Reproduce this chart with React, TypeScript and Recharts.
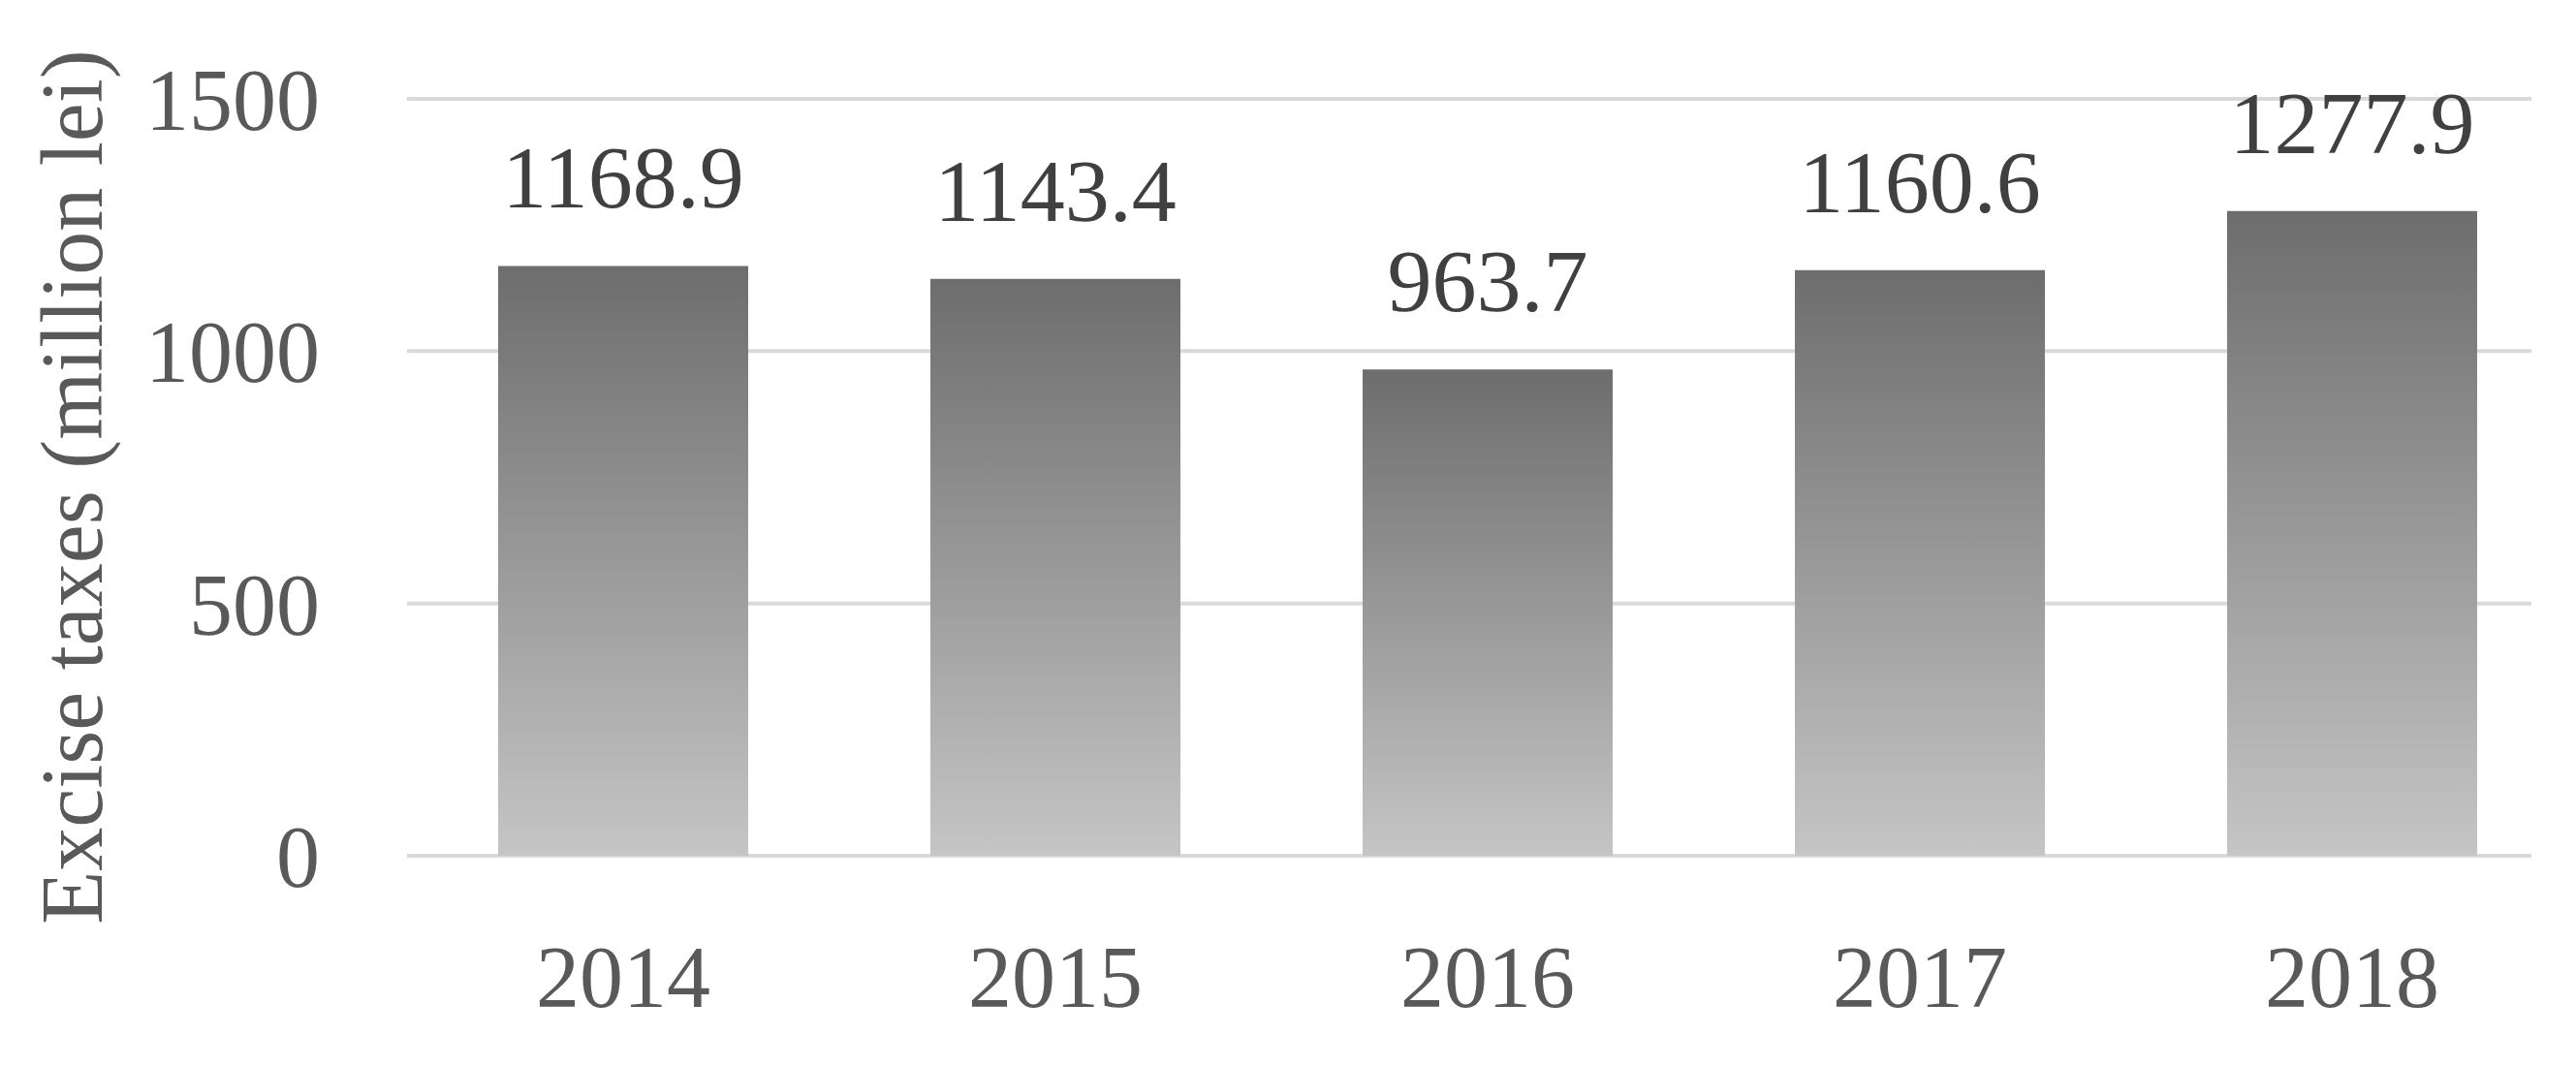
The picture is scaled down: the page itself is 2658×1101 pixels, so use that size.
import { Bar, BarChart, CartesianGrid, LabelList, XAxis, YAxis } from 'recharts';

const YEARS = ['2014', '2015', '2016', '2017', '2018'];
const EXCISE = [1168.9, 1143.4, 963.7, 1160.6, 1277.9];
const Y_TICKS = [0, 500, 1000, 1500];

const data = YEARS.map((year, i) => ({ year, excise: EXCISE[i] }));

const FONT = '"Liberation Serif", "Times New Roman", serif';
const GREY = '#595959';

function AxisTitle({ viewBox }: any) {
  const cx = viewBox.x + 74;
  const cy = viewBox.y + viewBox.height / 2 + 10;
  return (
    <text
      x={cx}
      y={cy}
      transform={`rotate(-90 ${cx} ${cy})`}
      textAnchor="middle"
      dominantBaseline="central"
      fontFamily={FONT}
      fontSize={90}
      fill={GREY}
    >
      Excise taxes (million lei)
    </text>
  );
}

export default function App() {
  return (
    <div style={{ width: 2658, height: 1101, background: '#fff' }}>
      <style>{'body{margin:0}'}</style>
      <BarChart
        width={2658}
        height={1101}
        data={data}
        margin={{ top: 102, right: 8, left: 0, bottom: 0 }}
      >
        <defs>
          <linearGradient id="barGrad" x1="0" y1="0" x2="0" y2="1">
            <stop offset="0%" stopColor="#6d6d6d" />
            <stop offset="100%" stopColor="#c5c5c5" />
          </linearGradient>
        </defs>
        <CartesianGrid
          vertical={false}
          horizontal={(p: any) => (
            <line
              key={`h-${p.index}-${p.y1}`}
              x1={p.x1}
              y1={p.y1}
              x2={p.x2 - 38}
              y2={p.y2}
              stroke="#d9d9d9"
              strokeWidth={4}
            />
          )}
        />
        <XAxis
          dataKey="year"
          height={218}
          axisLine={false}
          tickLine={false}
          tickMargin={86}
          tick={{ fontSize: 90, fill: GREY, fontFamily: FONT }}
        />
        <YAxis
          width={420}
          domain={[0, 1500]}
          ticks={Y_TICKS}
          axisLine={false}
          tickLine={false}
          tickMargin={84}
          tick={{ fontSize: 90, fill: GREY, fontFamily: FONT }}
          label={<AxisTitle />}
        />
        <Bar
          dataKey="excise"
          fill="url(#barGrad)"
          barSize={258}
          isAnimationActive={false}
        >
          <LabelList
            dataKey="excise"
            position="top"
            offset={60}
            formatter={(v: any) => Number(v).toFixed(1)}
            style={{ fontSize: 92, fill: '#404040', fontFamily: FONT }}
          />
        </Bar>
      </BarChart>
    </div>
  );
}
